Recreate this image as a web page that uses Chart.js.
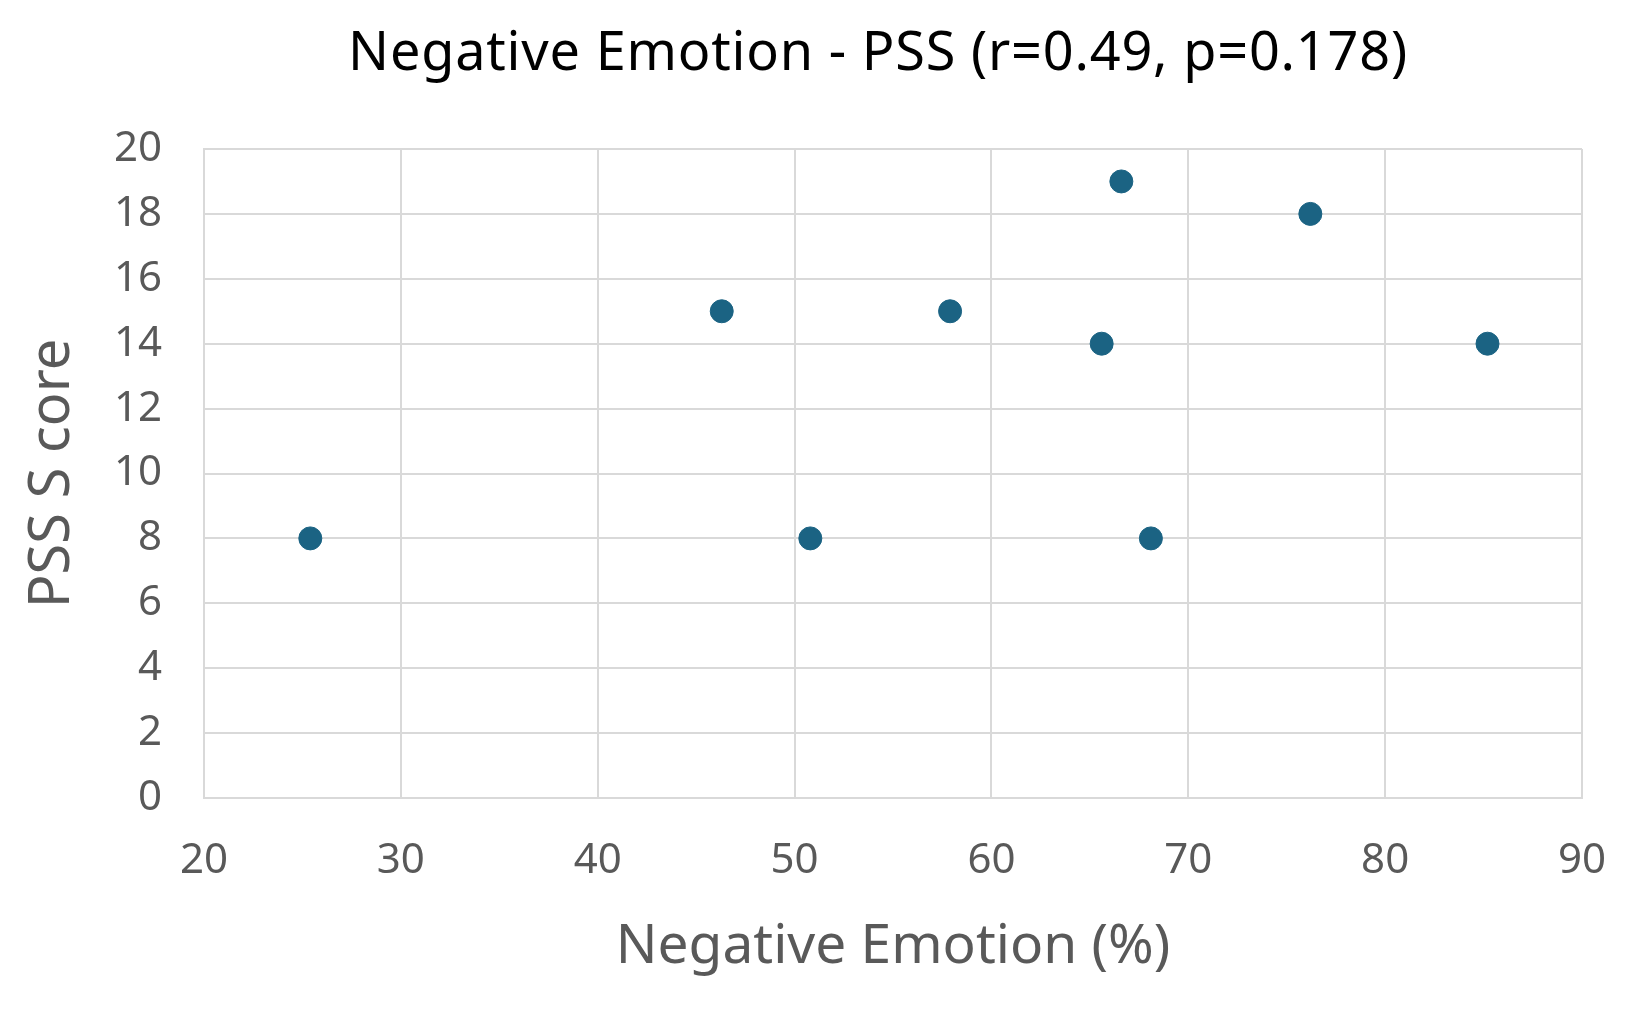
<!DOCTYPE html>
<html>
<head>
<meta charset="utf-8">
<script src="https://cdn.jsdelivr.net/npm/chart.js@4.4.0/dist/chart.umd.min.js"></script>
<style>
  html, body { margin: 0; padding: 0; background: #fff; }
  #wrap { width: 1635px; height: 1012px; }
</style>
</head>
<body>
<div id="wrap"><canvas id="chart" width="1635" height="1012"></canvas></div>
<script>
// values
const negativeEmotion = [25.4, 46.3, 50.8, 57.9, 65.6, 66.6, 68.1, 76.2, 85.2];
const pssScore = [8, 15, 8, 15, 14, 19, 8, 18, 14];
const xTicks = [20, 30, 40, 50, 60, 70, 80, 90];
const yTicks = [0, 2, 4, 6, 8, 10, 12, 14, 16, 18, 20];

const chartTitle = 'Negative Emotion - PSS (r=0.49, p=0.178)';
const xTitle = 'Negative Emotion (%)';
const yTitle = 'PSS S core';

const fontFamily = '"Noto Sans", "Open Sans", sans-serif';
const gridColor = '#d9d9d9';
const textColor = '#595959';

const points = negativeEmotion.map((x, i) => ({ x: x, y: pssScore[i] }));

// title is drawn by hand so it can sit a bit left of the plot centre like the original
const titlePlugin = {
  id: 'manualTitle',
  afterDraw(chart) {
    const ctx = chart.ctx;
    const area = chart.chartArea;
    ctx.save();
    ctx.font = '54px ' + fontFamily;
    ctx.fillStyle = '#000';
    ctx.textAlign = 'center';
    ctx.textBaseline = 'middle';
    if ('letterSpacing' in ctx) ctx.letterSpacing = '0.8px';
    ctx.fillText(chartTitle, (area.left + area.right) / 2 - 15, 55);
    ctx.restore();
  }
};

new Chart(document.getElementById('chart'), {
  type: 'scatter',
  data: {
    datasets: [{
      label: 'PSS',
      data: points,
      backgroundColor: '#1b6383',
      borderColor: '#1b6383',
      pointRadius: 11.5,
      pointHoverRadius: 11.5,
    }],
  },
  options: {
    responsive: false,
    animation: false,
    layout: { autoPadding: false, padding: { top: 149, right: 53, left: 0, bottom: 0 } },
    plugins: {
      legend: { display: false },
      tooltip: { enabled: false },
      title: { display: false },
    },
    scales: {
      x: {
        type: 'linear',
        min: 20,
        max: 90,
        afterBuildTicks: (scale) => { scale.ticks = xTicks.map(v => ({ value: v })); },
        afterFit: (scale) => {
          scale.height = 214;
          scale.paddingLeft = 0;
          scale.paddingRight = 0;
        },
        grid: { color: gridColor, lineWidth: 2, drawTicks: false },
        border: { color: gridColor, width: 2 },
        ticks: { padding: 38, color: textColor, font: { family: fontFamily, size: 42 } },
        title: {
          display: true,
          text: xTitle,
          color: textColor,
          font: { family: fontFamily, size: 55 },
          padding: { top: 0, bottom: 32 },
        },
      },
      y: {
        type: 'linear',
        min: 0,
        max: 20,
        afterBuildTicks: (scale) => { scale.ticks = yTicks.map(v => ({ value: v })); },
        afterFit: (scale) => {
          scale.width = 204;
          scale.paddingTop = 0;
          scale.paddingBottom = 0;
        },
        grid: { color: gridColor, lineWidth: 2, drawTicks: false },
        border: { color: gridColor, width: 2 },
        ticks: { padding: 42, color: textColor, font: { family: fontFamily, size: 42 } },
        title: {
          display: true,
          text: yTitle,
          color: textColor,
          font: { family: fontFamily, size: 56 },
          padding: { top: 19, bottom: 0 },
        },
      },
    },
  },
  plugins: [titlePlugin],
});
</script>
</body>
</html>
